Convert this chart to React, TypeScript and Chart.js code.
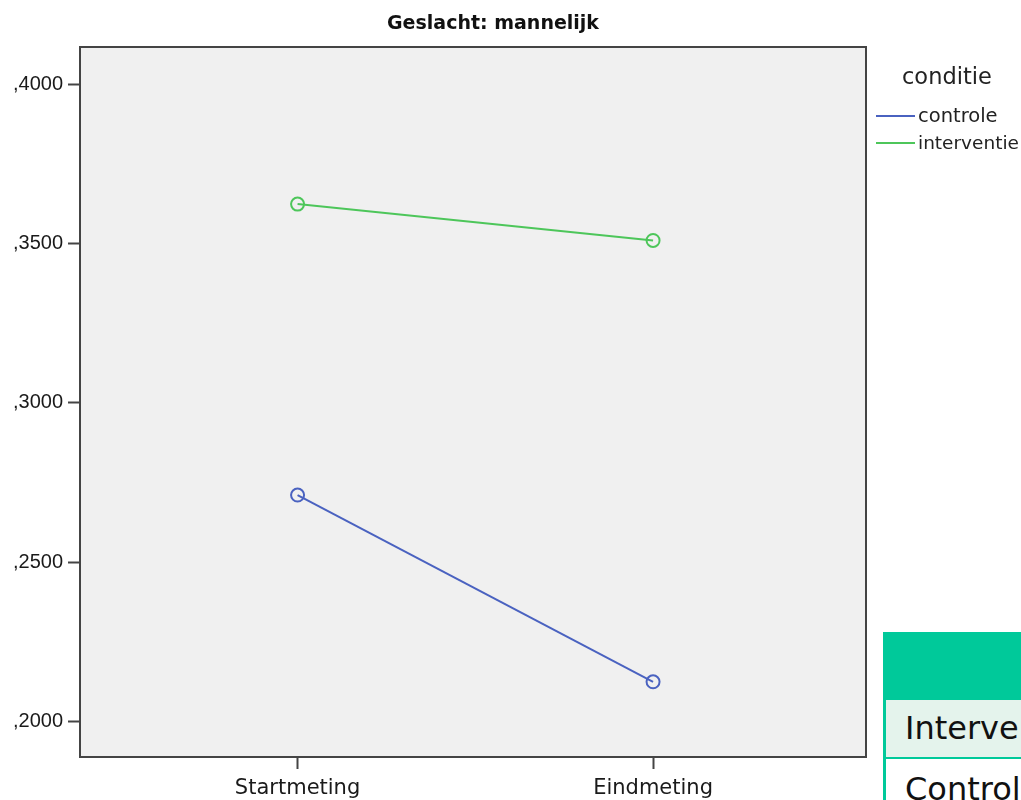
import React, { useEffect, useRef } from "react";
import { Chart, registerables } from "chart.js";

Chart.register(...registerables);

const categories = ["Startmeting", "Eindmeting"];
const categoryPositions = [1, 2];
const controle = [0.2711, 0.2125];
const interventie = [0.3624, 0.351];
const yTicks = [0.2, 0.25, 0.3, 0.35, 0.4];
const seriesLabels = ["controle", "interventie"];
const legendTitle = "conditie";
const chartTitle = "Geslacht: mannelijk";
const tableRows = ["Interventie", "Controle"];

const BLUE = "#4a62c0";
const GREEN = "#4dc65a";

const decor = {
  id: "decor",
  beforeDatasetsDraw(chart: any) {
    const { ctx, chartArea: a } = chart;
    ctx.save();
    ctx.fillStyle = "#f0f0f0";
    ctx.fillRect(a.left, a.top, a.right - a.left, a.bottom - a.top);
    ctx.restore();
  },
  afterDraw(chart: any) {
    const { ctx, chartArea: a } = chart;
    ctx.save();
    ctx.strokeStyle = "#444444";
    ctx.lineWidth = 2;
    ctx.strokeRect(a.left, a.top, a.right - a.left, a.bottom - a.top);
    // title
    ctx.fillStyle = "#111111";
    ctx.font = "bold 19px 'DejaVu Sans'";
    ctx.textAlign = "center";
    ctx.textBaseline = "alphabetic";
    ctx.fillText(chartTitle, 493, 29);
    // legend
    ctx.textAlign = "left";
    ctx.fillStyle = "#222222";
    ctx.font = "22.5px 'DejaVu Sans'";
    ctx.fillText(legendTitle, 902, 84);
    const colors = [BLUE, GREEN];
    seriesLabels.forEach((lab, i) => {
      const y = 116 + i * 27;
      ctx.strokeStyle = colors[i];
      ctx.lineWidth = 2;
      ctx.beginPath();
      ctx.moveTo(876, y);
      ctx.lineTo(915, y);
      ctx.stroke();
      ctx.fillStyle = "#222222";
      ctx.textBaseline = "middle";
      ctx.font = (i === 0 ? "19.5px" : "18.5px") + " 'DejaVu Sans'";
      ctx.fillText(lab, 918, y + 1);
    });
    ctx.restore();
  },
};

export default function App() {
  const ref = useRef<HTMLCanvasElement | null>(null);
  useEffect(() => {
    document.body.style.margin = "0";
    const mk = (vals: number[]) => vals.map((v, i) => ({ x: categoryPositions[i], y: v }));
    const ds = (label: string, vals: number[], color: string) => ({
      label,
      data: mk(vals),
      borderColor: color,
      backgroundColor: "rgba(0,0,0,0)",
      borderWidth: 2,
      pointStyle: "circle",
      pointRadius: 6.5,
      pointBorderWidth: 2,
      pointBorderColor: color,
      pointBackgroundColor: "rgba(0,0,0,0)",
    });
    const chart = new Chart(ref.current as HTMLCanvasElement, {
      type: "line",
      data: {
        datasets: [ds(seriesLabels[0], controle, BLUE), ds(seriesLabels[1], interventie, GREEN)],
      },
      options: {
        responsive: false,
        animation: false,
        layout: { padding: { top: 47, right: 155, bottom: 0, left: 0 } },
        plugins: { legend: { display: false }, title: { display: false }, tooltip: { enabled: false } },
        scales: {
          x: {
            type: "linear",
            min: 0.388,
            max: 2.599,
            afterFit: (s: any) => { s.height = 43; },
            afterBuildTicks: (s: any) => { s.ticks = categoryPositions.map((v) => ({ value: v })); },
            grid: { drawOnChartArea: false, tickLength: 12, tickColor: "#444444", tickWidth: 2 },
            border: { display: false },
            ticks: {
              padding: 7,
              color: "#1a1a1a",
              font: { family: "'DejaVu Sans'", size: 21 },
              callback: (v: any) => {
                const i = categoryPositions.indexOf(Number(v));
                return i >= 0 ? categories[i] : "";
              },
            },
          },
          y: {
            type: "linear",
            min: 0.1889,
            max: 0.4117,
            afterFit: (s: any) => { s.width = 80; },
            afterBuildTicks: (s: any) => { s.ticks = yTicks.map((v) => ({ value: v })); },
            grid: { drawOnChartArea: false, tickLength: 12, tickColor: "#444444", tickWidth: 2 },
            border: { display: false },
            ticks: {
              padding: 5,
              color: "#1a1a1a",
              font: { family: "'Liberation Sans'", size: 20 },
              callback: (v: any) => Number(v).toFixed(4).replace(/^0\./, ","),
            },
          },
        },
      },
      plugins: [decor],
    } as any);
    return () => chart.destroy();
  }, []);

  return (
    <div style={{ position: "fixed", left: 0, top: 0, width: 1021, height: 800, overflow: "hidden", background: "#ffffff" }}>
      <canvas ref={ref} width={1021} height={800} style={{ position: "absolute", left: 0, top: 0, width: 1021, height: 800 }} />
      <div style={{ position: "absolute", left: 883, top: 632, width: 300, height: 200, fontFamily: "'DejaVu Sans'", fontSize: 32, color: "#111111" }}>
        <div style={{ height: 66, background: "#00c99a" }} />
        <div style={{ height: 57, background: "#e4f3ec", borderLeft: "3px solid #00c99a", borderTop: "2px solid #00c99a", borderBottom: "2px solid #00c99a", boxSizing: "content-box", paddingLeft: 19, lineHeight: "57px", whiteSpace: "nowrap" }}>{tableRows[0]}</div>
        <div style={{ height: 60, background: "#ffffff", borderLeft: "3px solid #00c99a", paddingLeft: 19, lineHeight: "60px", whiteSpace: "nowrap" }}>{tableRows[1]}</div>
      </div>
    </div>
  );
}
